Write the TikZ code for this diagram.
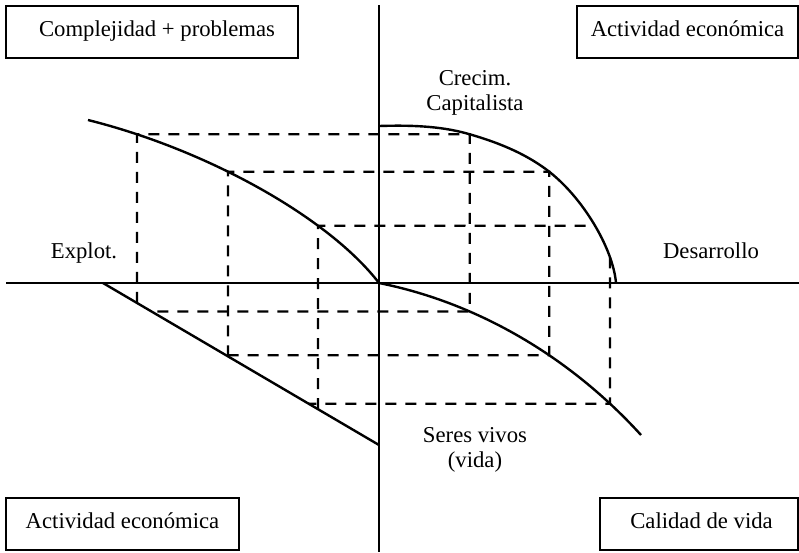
\documentclass[tikz,border=0pt]{standalone}
\usepackage{fontspec}
\setmainfont{Liberation Serif}
\usetikzlibrary{intersections}
\begin{document}
\begin{tikzpicture}[x=1pt,y=-1pt,
  axis/.style={line width=2.2pt},
  curve/.style={line width=2.4pt, line join=round},
  guide/.style={line width=2.2pt, dash pattern=on 11pt off 9pt},
  label/.style={font=\fontsize{22.7pt}{25pt}\selectfont, inner sep=0pt},
  tag/.style={draw, line width=2.2pt, font=\fontsize{22.7pt}{25pt}\selectfont,
    minimum height=52pt, text height=1em, text depth=0.2em, inner sep=0pt}]
\useasboundingbox (0,0) rectangle (799,552);

% axes
\coordinate (N) at (379,5);
\coordinate (S) at (379,552);
\coordinate (W) at (6,283);
\coordinate (E) at (799,283);
\coordinate (O) at (379,283);
\draw[axis] (N) -- (S);
\draw[axis] (W) -- (E);

% quadrant titles
\node[tag, minimum width=292pt] (cp) at (152,32) {\hspace*{10pt}Complejidad + problemas};
\node[tag, minimum width=221pt] (ae1) at (687.5,32) {Actividad económica};
\node[tag, minimum width=233pt] (ae2) at (122.5,524) {Actividad económica};
\node[tag, minimum width=198pt] (cv) at (699,524) {\hspace*{5pt}Calidad de vida};

% curve labels
\node[label, anchor=base] (ex) at (84,258) {Explot.};
\node[label, anchor=base] (de) at (711,258) {Desarrollo};
\node[label, align=center] (cc) at (475,93) {Crecim.\\Capitalista};
\node[label, align=center] (sv) at (475,450) {Seres vivos\\(vida)};

% the four curves
\coordinate (ul0) at (88,120);
\draw[curve, name path=UL] (ul0) .. controls (208,150) and (329,218) .. (O);
\coordinate (ur0) at (379,126);
\coordinate (ur1) at (467,133.5);
\coordinate (ur2) at (547,170);
\coordinate (ur9) at (616,283);
\draw[curve, name path=UR] (ur0) .. controls (408,125.1) and (439,125.7) .. (ur1)
                                 .. controls (495.4,141.5) and (523.4,152.3) .. (ur2)
                                 .. controls (582.2,196.4) and (613,248) .. (ur9);
\coordinate (lr9) at (641,435);
\draw[curve, name path=LR] (O) .. controls (479,303) and (571,358) .. (lr9);
\coordinate (ll0) at (103,283);
\coordinate (ll1) at (379,445);
\draw[curve, name path=LL] (ll0) -- (ll1);

% guide construction: from the left curve across to the right curve,
% down to the lower curve and back to the straight line
\foreach \i/\gx in {1/137, 2/228, 3/318} {
  \path[name path=V\i] (\gx,0) -- (\gx,552);
  \path[name intersections={of=UL and V\i, by=a\i}];
  \path[name intersections={of=LL and V\i, by=e\i}];
  \path[name path=H\i] (a\i) -- ++(500,0);
  \path[name intersections={of=UR and H\i, by=b\i}];
}
\foreach \i in {1,2} {
  \path[name path=W\i] (b\i) -- ++(0,300);
  \path[name intersections={of=LR and W\i, by=c\i}];
  \path[name path=K\i] (c\i) -- ++(-500,0);
  \path[name intersections={of=LL and K\i, by=d\i}];
}
\path[name path=W3] (610,0) -- (610,552);
\path[name intersections={of=UR and W3, by=f3}];
\path[name intersections={of=LR and W3, by=c3}];
\path[name path=K3] (c3) -- ++(-500,0);
\path[name intersections={of=LL and K3, by=d3}];

% dashed guides
\draw[guide] (e1) -- (a1) -- (b1) -- (c1) -- (d1);
\draw[guide] (e2) -- (a2) -- (b2) -- (c2) -- (d2);
\draw[guide] (e3) -- (a3) -- (b3);
\draw[guide] (f3) -- (c3) -- (d3);
\end{tikzpicture}
\end{document}
